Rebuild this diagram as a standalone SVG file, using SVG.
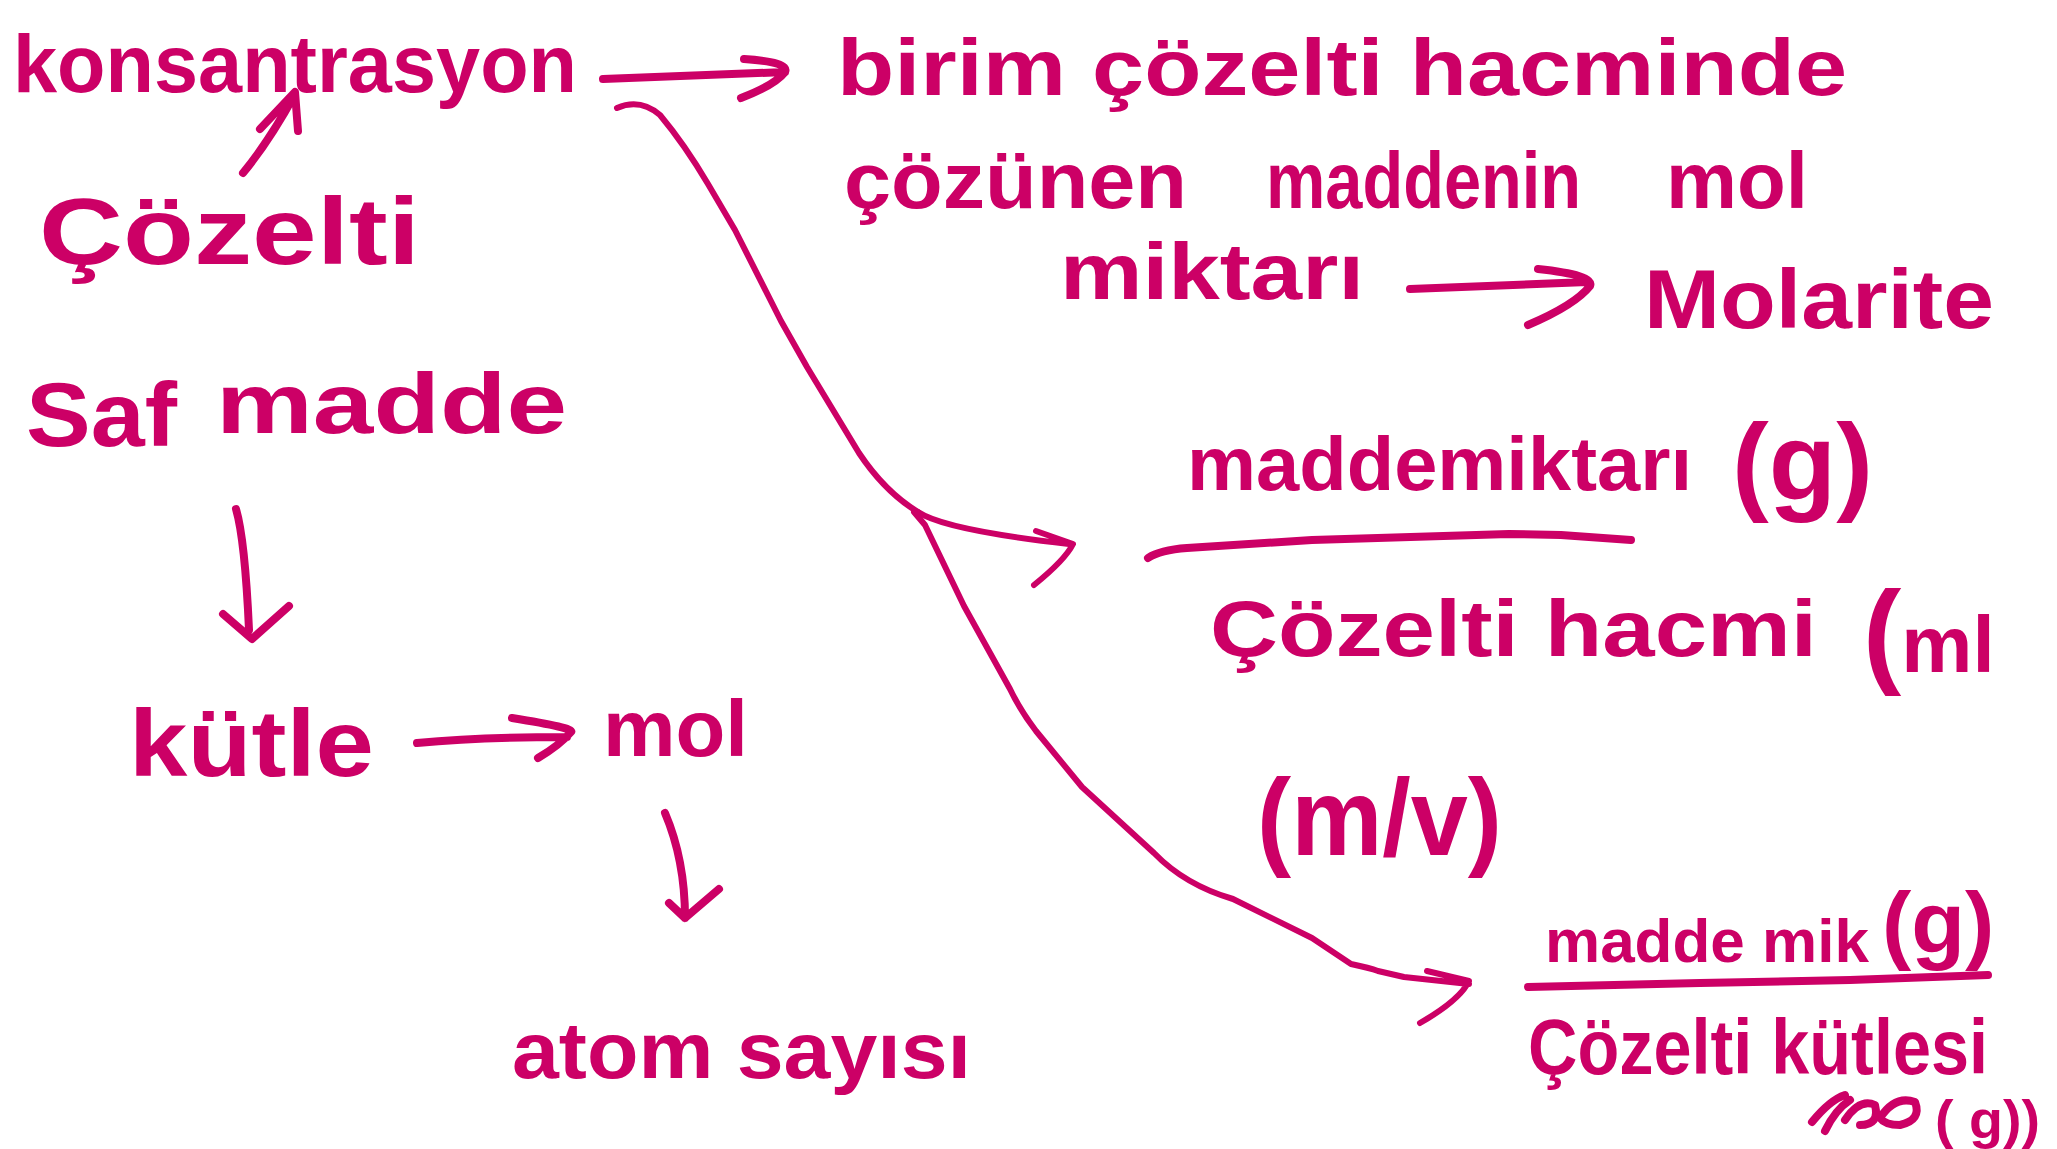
<svg xmlns="http://www.w3.org/2000/svg" width="2057" height="1149" viewBox="0 0 2057 1149">
<style>
.t{font-family:"Liberation Sans",Arial,sans-serif;fill:#CC0066;font-weight:bold}
.c{fill:none;stroke:#CC0066;stroke-linecap:round;stroke-linejoin:round}
.a{stroke-width:8}
.l{stroke-width:6}
</style>
<rect width="2057" height="1149" fill="#ffffff"/>
<g id="connectors">
<path class="c a" d="M603,79 L785,72 M744,59 Q790,62 785,72 Q775,85 741,98"/>
<path class="c a" d="M243,173 Q270,140 295,94 M260,129 L295,92 L298,131"/>
<path class="c a" d="M1410,289 L1587,282 M1538,269 Q1595,275 1590,286 Q1575,305 1528,325"/>
<path class="c a" d="M236,509 Q245,540 249,630 M223,614 L252,639 L289,606"/>
<path class="c a" d="M417,743 Q480,737 567,737 M512,718 Q575,728 571,732 Q560,745 538,758"/>
<path class="c a" d="M665,813 Q685,860 685,918 M669,903 L685,918 L719,889"/>
<path class="c l" d="M617,108 Q640,98 660,115 Q685,145 708,184 L735,230 L781,321 L807,367 L859,453 Q885,492 918,512"/>
<path class="c l" d="M918,512 Q945,530 1069,544 M1036,531 L1073,544 Q1065,560 1034,585"/>
<path class="c l" d="M914,512 L925,525 L964,606 L1010,689 Q1020,710 1036,731 L1082,787 L1154,853 Q1185,885 1233,899 L1312,938 L1351,964 Q1370,968 1378,971 L1404,977 L1469,984 M1427,971 L1469,981 Q1460,1000 1420,1023"/>
</g>
<g id="konsantrasyon"><text class="t" x="13" y="92" font-size="82" textLength="564" lengthAdjust="spacingAndGlyphs">konsantrasyon</text></g>
<g id="cozelti"><text class="t" x="39" y="264" font-size="95" textLength="381" lengthAdjust="spacingAndGlyphs">Çözelti</text></g>
<g id="tanim">
<text class="t" x="837" y="95" font-size="80" textLength="1010" lengthAdjust="spacingAndGlyphs">birim çözelti hacminde</text>
<text class="t" x="844" y="208" font-size="80" textLength="343" lengthAdjust="spacingAndGlyphs">çözünen</text>
<text class="t" x="1266" y="208" font-size="80" textLength="315" lengthAdjust="spacingAndGlyphs">maddenin</text>
<text class="t" x="1666" y="208" font-size="80" textLength="142" lengthAdjust="spacingAndGlyphs">mol</text>
<text class="t" x="1060" y="299" font-size="80" textLength="304" lengthAdjust="spacingAndGlyphs">miktarı</text>
</g>
<g id="molarite"><text class="t" x="1644" y="328" font-size="84" textLength="350" lengthAdjust="spacingAndGlyphs">Molarite</text></g>
<g id="safmadde">
<text class="t" x="26" y="446" font-size="90" textLength="151" lengthAdjust="spacingAndGlyphs">Saf</text>
<text class="t" x="216" y="433" font-size="85" textLength="351" lengthAdjust="spacingAndGlyphs">madde</text>
</g>
<g id="kutle"><text class="t" x="129" y="776" font-size="95" textLength="245" lengthAdjust="spacingAndGlyphs">kütle</text></g>
<g id="mol"><text class="t" x="603" y="756" font-size="80" textLength="145" lengthAdjust="spacingAndGlyphs">mol</text></g>
<g id="atomsayisi"><text class="t" x="512" y="1078" font-size="80" textLength="459" lengthAdjust="spacingAndGlyphs">atom sayısı</text></g>
<g id="kesir1">
<text class="t" x="1187" y="490" font-size="76" textLength="505" lengthAdjust="spacingAndGlyphs">maddemiktarı</text>
<text class="t" x="1732" y="500" font-size="110" textLength="141" lengthAdjust="spacingAndGlyphs">(g)</text>
<path class="c a" d="M1148,558 Q1160,550 1187,548 L1312,540 L1509,534 L1561,535 L1631,540"/>
<text class="t" x="1210" y="656" font-size="80" textLength="607" lengthAdjust="spacingAndGlyphs">Çözelti hacmi</text>
<text class="t" x="1863" y="672" font-size="115">(<tspan font-size="80">ml</tspan></text>
</g>
<g id="mv"><text class="t" x="1257" y="855" font-size="110" textLength="245" lengthAdjust="spacingAndGlyphs">(m/v)</text></g>
<g id="kesir2">
<text class="t" x="1545" y="962" font-size="62">madde mik</text>
<text class="t" x="1882" y="953" font-size="88">(g)</text>
<path class="c a" d="M1528,987 L1700,983 L1850,980 L1988,975"/>
<text class="t" x="1528" y="1074" font-size="78" textLength="460" lengthAdjust="spacingAndGlyphs">Çözelti kütlesi</text>
<path class="c a" d="M1812,1122 Q1830,1100 1845,1095 M1825,1131 Q1835,1110 1850,1100 M1845,1120 Q1860,1098 1875,1105 Q1880,1125 1860,1125 M1880,1118 Q1895,1095 1915,1102 Q1922,1120 1900,1125 Q1885,1125 1880,1118"/>
<text class="t" x="1935" y="1138" font-size="54" textLength="105" lengthAdjust="spacingAndGlyphs">( g))</text>
</g>
</svg>
